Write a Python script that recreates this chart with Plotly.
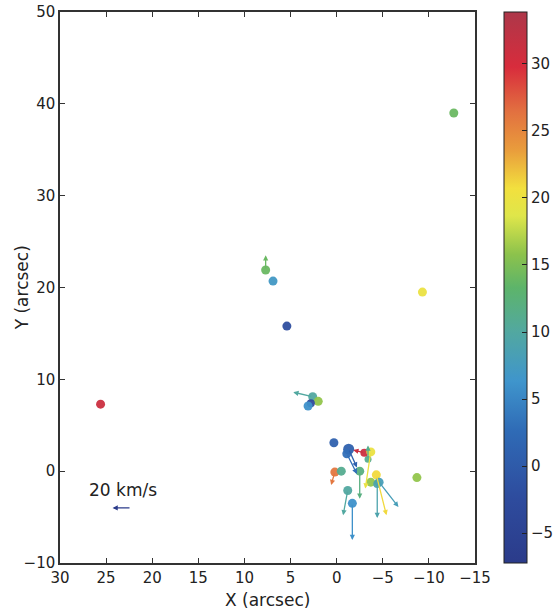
import plotly.graph_objects as go

# Source positions (arcsec), velocity colour (km/s), proper-motion vectors (km/s)
xs = [-12.7, -9.3, 7.7, 6.9, 5.4, 25.6, 2.6, 2.0, 2.8, 3.1, 0.3, -1.3, -1.1,
      -3.4, -3.0, -3.7, 0.2, -0.5, -2.5, -1.2, -1.7, -3.7, -4.3, -4.6, -4.4, -8.7]
ys = [39.0, 19.5, 21.9, 20.7, 15.8, 7.3, 8.1, 7.6, 7.4, 7.1, 3.1, 2.4, 1.9,
      1.3, 2.0, 2.1, -0.1, 0.0, 0.0, -2.1, -3.5, -1.2, -0.4, -1.2, -1.4, -0.7]
vel = [14, 20, 14, 7, -2, 31, 10, 16, -3, 6, 1, 1, 3,
       11, 31, 20, 26, 11, 12, 10, 6, 16, 21, 8, 9, 16]
vx = [0, 0, 0, 0, 0, 0, 21, 0, 0, 0, 0, -9, -11,
      0, 12, 6, 4, 0, 0, 5, 0, 0, -11, -21, 0, 0]
vy = [0, 0, 16, 0, 0, 0, 5, 0, 0, 0, 0, -20, -22,
      15, 3, -40, -14, 0, -30, -27, -40, 0, -44, -27, -37, 0]
sizes = [9, 9, 9, 9, 9, 9, 9, 9, 8, 9, 9, 11, 9,
         7, 8, 9, 9, 9, 9, 9, 9, 9, 9, 9, 8, 9]

vscale = 0.1  # arcsec per km/s
ref_v = 20
ref_pos = (22.3, -4.0)

cmin, cmax = -7.23, 33.87
colorscale = [
    [0.0, "#2b3b8a"], [0.12, "#2e4c9e"], [0.24, "#2f6bb6"], [0.33, "#3f95cc"],
    [0.42, "#52a8a0"], [0.5, "#5db46a"], [0.56, "#8cc24c"], [0.63, "#dfe64a"],
    [0.68, "#f2e03e"], [0.75, "#e99c3c"], [0.82, "#e27040"], [0.9, "#d82c3c"],
    [1.0, "#ad3749"],
]


def color_at(v):
    t = (v - cmin) / (cmax - cmin)
    t = min(max(t, 0), 1)
    for (t0, c0), (t1, c1) in zip(colorscale[:-1], colorscale[1:]):
        if t0 <= t <= t1:
            f = (t - t0) / (t1 - t0) if t1 > t0 else 0
            a = [int(c0[i:i + 2], 16) for i in (1, 3, 5)]
            b = [int(c1[i:i + 2], 16) for i in (1, 3, 5)]
            r = [round(a[k] + (b[k] - a[k]) * f) for k in range(3)]
            return "rgb(%d,%d,%d)" % tuple(r)
    return colorscale[-1][1]


fig = go.Figure()

annotations = []
for x, y, v, ux, uy in zip(xs, ys, vel, vx, vy):
    if ux == 0 and uy == 0:
        continue
    annotations.append(dict(
        x=x + ux * vscale, y=y + uy * vscale, ax=x, ay=y,
        xref="x", yref="y", axref="x", ayref="y",
        showarrow=True, arrowhead=2, arrowsize=0.8, arrowwidth=1.3,
        arrowcolor=color_at(v), standoff=0, startstandoff=0, text=""))

# reference arrow
annotations.append(dict(
    x=ref_pos[0] + ref_v * vscale, y=ref_pos[1], ax=ref_pos[0], ay=ref_pos[1],
    xref="x", yref="y", axref="x", ayref="y",
    showarrow=True, arrowhead=2, arrowsize=0.8, arrowwidth=1.3,
    arrowcolor="#2b3b8a", standoff=0, text=""))
annotations.append(dict(
    x=23.2, y=-2.1, xref="x", yref="y", text="20 km/s", showarrow=False,
    font=dict(family="DejaVu Sans", size=17, color="#222")))

# axis titles placed as in the reference
annotations.append(dict(
    x=0.5, y=-0.067, xref="paper", yref="paper", text="X (arcsec)", showarrow=False,
    xanchor="center", yanchor="middle",
    font=dict(family="DejaVu Sans", size=17, color="#222")))
annotations.append(dict(
    x=-0.092, y=0.5, xref="paper", yref="paper", text="Y (arcsec)", showarrow=False,
    textangle=-90, xanchor="center", yanchor="middle",
    font=dict(family="DejaVu Sans", size=17, color="#222")))

fig.add_trace(go.Scatter(
    x=xs, y=ys, mode="markers",
    marker=dict(size=sizes, color=vel, colorscale=colorscale, cmin=cmin, cmax=cmax,
                line=dict(width=0), opacity=0.95,
                colorbar=dict(
                    x=1.0699, xanchor="left", xref="paper", y=0.5, yanchor="middle",
                    len=1.0, lenmode="fraction", thickness=23, thicknessmode="pixels",
                    outlinecolor="#222", outlinewidth=1,
                    tickvals=[-5, 0, 5, 10, 15, 20, 25, 30],
                    ticks="inside", ticklen=5, tickcolor="#222",
                    tickfont=dict(family="DejaVu Sans", size=15, color="#222"),
                    xpad=0, ypad=0)),
    showlegend=False, hoverinfo="skip"))

fig.update_layout(
    width=558, height=614,
    margin=dict(l=60, r=83, t=12, b=51, autoexpand=False),
    paper_bgcolor="white", plot_bgcolor="white",
    annotations=annotations,
    xaxis=dict(range=[30, -15], tickvals=[30, 25, 20, 15, 10, 5, 0, -5, -10, -15],
               automargin=False,
               showgrid=False, zeroline=False, showline=True, linecolor="#333",
               linewidth=1.5, mirror="ticks", ticks="inside", ticklen=5,
               tickcolor="#333",
               tickfont=dict(family="DejaVu Sans", size=15, color="#222")),
    yaxis=dict(range=[-10, 50], tickvals=[-10, 0, 10, 20, 30, 40, 50],
               automargin=False,
               showgrid=False, zeroline=False, showline=True, linecolor="#333",
               linewidth=1.5, mirror="ticks", ticks="inside", ticklen=5,
               tickcolor="#333",
               tickfont=dict(family="DejaVu Sans", size=15, color="#222")),
)

fig.write_html("out.html", config={"displayModeBar": False},
               post_script="document.body.style.margin='0';document.body.style.overflow='hidden';")
